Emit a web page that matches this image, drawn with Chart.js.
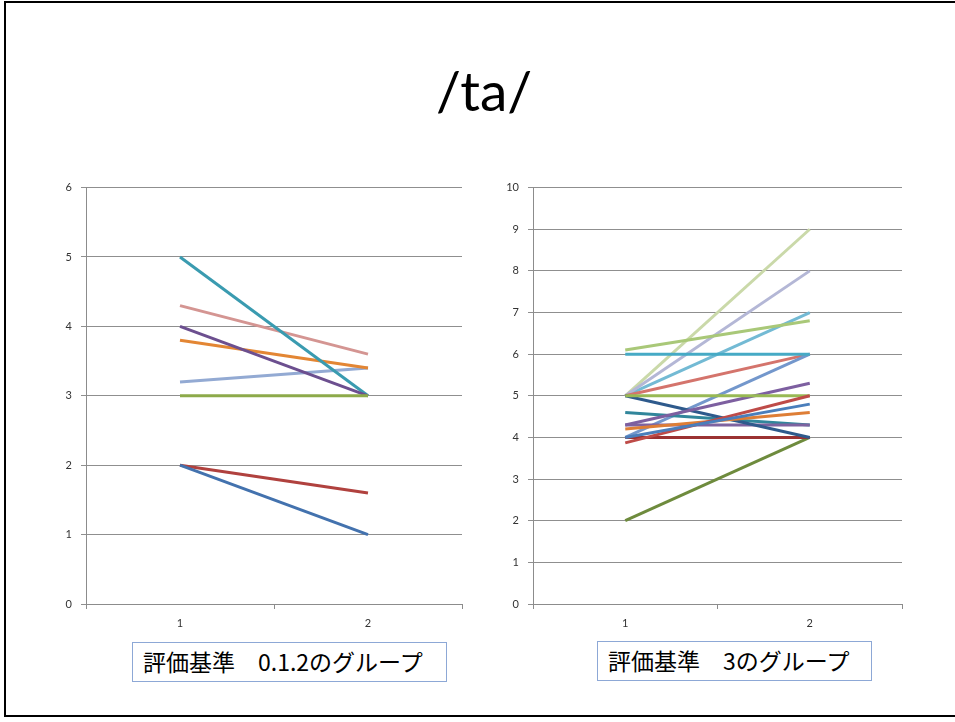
<!DOCTYPE html>
<html>
<head>
<meta charset="utf-8">
<script src="https://cdn.jsdelivr.net/npm/chart.js@4.4.1/dist/chart.umd.min.js"></script>
<style>
  html, body { margin: 0; padding: 0; background: #fff; }
  body { width: 955px; height: 722px; position: relative; overflow: hidden; font-family: Lato, "Liberation Sans", sans-serif; }
  .frame { position: absolute; left: 4px; top: 1px; width: 960px; height: 716px; border: 2px solid #000; box-sizing: border-box; }
  .title { position: absolute; left: 0; width: 968px; top: 57px; text-align: center; font-size: 55px; color: #000; font-family: Lato, "Liberation Sans", sans-serif; }
  .wrap { position: absolute; }
  .caption { position: absolute; border: 1px solid #8DA8D6; box-sizing: border-box; height: 40px; font-family: "Noto Sans CJK JP", sans-serif; font-size: 23px; line-height: 37px; color: #000; white-space: pre; background: #fff; }
</style>
</head>
<body>
<div class="frame"></div>
<div class="title">/ta/</div>
<div class="wrap" style="left:40px;top:172px;width:432px;height:465px"><canvas id="left"></canvas></div>
<div class="wrap" style="left:490px;top:172px;width:422px;height:465px"><canvas id="right"></canvas></div>
<div class="caption" style="left:132px;top:642px;width:315px;padding-left:10px">評価基準　0.1.2のグループ</div>
<div class="caption" style="left:597px;top:641px;width:275px;padding-left:10px">評価基準　3のグループ</div>
<script>
// Shared categories (evaluation rounds)
const categories = ['1', '2'];

// Group scored with criteria 0, 1, 2 — one [round 1, round 2] pair per speaker
const leftValues = [
  [2, 1],
  [2, 1.6],
  [3, 3],
  [4, 3],
  [5, 3],
  [3.8, 3.4],
  [3.2, 3.4],
  [4.3, 3.6]
];
const leftColors = ['#4372AE', '#B0413E', '#8DAA4A', '#6C4F8F', '#3A9BB0', '#E38634', '#93AAD3', '#D49592'];
const leftTicks = [0, 1, 2, 3, 4, 5, 6];

// Group scored with criterion 3
const rightValues = [
  [4, 4.8],
  [3.87, 5],
  [5, 5],
  [4.3, 5.3],
  [6, 6],
  [4.2, 4.6],
  [5, 4],
  [4, 4],
  [2, 4],
  [4.3, 4.3],
  [4.6, 4.3],
  [4, 6],
  [5, 6],
  [6.1, 6.8],
  [5, 8],
  [5, 7],
  [5, 9]
];
const rightColors = ['#4A7EBB', '#BE4B48', '#98B954', '#7D5FA0', '#46AAC5', '#DE7E36',
  '#2E5A8C', '#9B3232', '#6E8B3D', '#7E63A0', '#31869B',
  '#7397CC', '#D4746C', '#A9C878', '#B4B7D6', '#73BAD4', '#CAD9A9'];
const rightTicks = [0, 1, 2, 3, 4, 5, 6, 7, 8, 9, 10];

function buildChart(id, values, colors, ticks, yAxisWidth) {
  const datasets = values.map((v, i) => ({
    data: v,
    borderColor: colors[i],
    backgroundColor: colors[i],
    borderWidth: 3,
    pointRadius: 0,
    tension: 0,
    fill: false
  }));
  return new Chart(document.getElementById(id), {
    type: 'line',
    data: { labels: categories, datasets },
    options: {
      responsive: true,
      maintainAspectRatio: false,
      animation: false,
      layout: { padding: { top: 5, right: 10, left: 0, bottom: 0 } },
      plugins: { legend: { display: false }, tooltip: { enabled: false } },
      scales: {
        x: {
          offset: true,
          grid: { offset: true, drawOnChartArea: false, drawTicks: true, tickLength: 5, color: '#8C8C8C' },
          border: { color: '#8C8C8C', width: 1 },
          ticks: { color: '#333', font: { family: 'Lato', size: 11 }, padding: 8, maxRotation: 0 },
          afterFit: s => { s.height = 33; }
        },
        y: {
          min: ticks[0],
          max: ticks[ticks.length - 1],
          afterBuildTicks: s => { s.ticks = ticks.map(v => ({ value: v })); },
          grid: { color: '#8F8F8F', lineWidth: 1, tickLength: 5 },
          border: { color: '#8C8C8C', width: 1 },
          ticks: { color: '#333', font: { family: 'Lato', size: 11 }, padding: 9 },
          afterFit: s => { s.width = yAxisWidth; }
        }
      }
    }
  });
}

buildChart('left', leftValues, leftColors, leftTicks, 46);
buildChart('right', rightValues, rightColors, rightTicks, 43);
</script>
</body>
</html>
